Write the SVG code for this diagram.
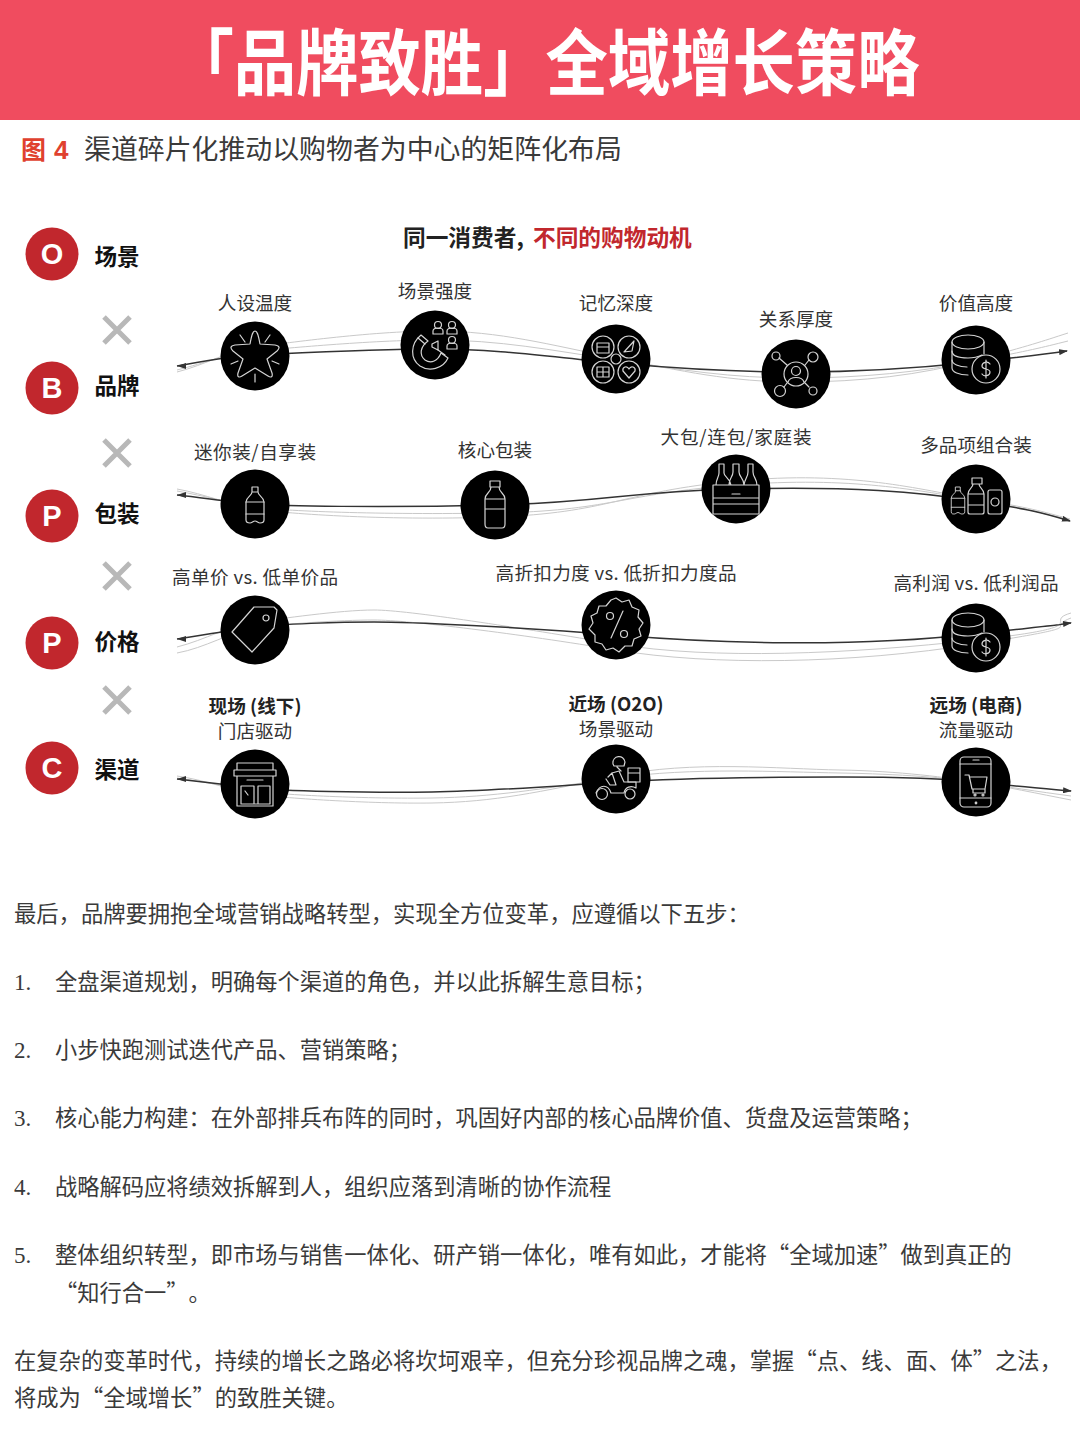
<svg xmlns="http://www.w3.org/2000/svg" width="1080" height="1443" viewBox="0 0 1080 1443">
<style>
text{font-family:"Liberation Sans","Noto Sans CJK SC",sans-serif}
.cjk{font-family:"Noto Sans CJK SC","Liberation Sans",sans-serif}
.lab{font-size:18.6px;fill:#333;text-anchor:middle}
.labb{font-size:18.6px;fill:#222;text-anchor:middle;font-weight:700}
.side{font-size:22.5px;fill:#111;font-weight:700}
.let{font-size:29px;fill:#fff;font-weight:700;text-anchor:middle}
.body{font-size:22.25px;fill:#3a3a3a}
.bodyw{font-size:22.3px;fill:#3a3a3a}
.num{font-family:"Liberation Serif",serif;font-size:23px;fill:#3a3a3a}
.main{fill:none;stroke:#333;stroke-width:1.5}
.lite{fill:none;stroke:#c9c9c9;stroke-width:1}
.dot{fill:#000}
.ic{fill:none;stroke:#d4d4d4;stroke-width:1.2;stroke-linejoin:round;stroke-linecap:round}
.x{stroke:#b8b8b8;stroke-width:5;fill:none}
.bad{fill:#c1272d}
</style>
<defs>
<marker id="ah" markerWidth="9" markerHeight="6" refX="8" refY="3" orient="auto" markerUnits="userSpaceOnUse"><path d="M0 0L9 3L0 6z" fill="#333"/></marker>
<g id="coins">
<ellipse cx="-8" cy="-18" rx="16" ry="7"/>
<path d="M-24 -18V8C-24 12 -17 15 -8 15"/>
<path d="M8 -18V-6"/>
<path d="M-24 -9C-24 -4 -17 -2 -8 -2C-3 -2 2 -3 6 -5"/>
<path d="M-24 0C-24 4 -17 7 -9 7"/>
<circle cx="10" cy="9" r="14"/>
<path d="M14 4C12 1 6 2 6 6C6 10 14 8 14 12C14 16 8 17 6 14M10 0V18"/>
</g>
<g id="person"><circle cx="0" cy="-3" r="3.5"/><path d="M-5 6V3C-5 1 -3 0 0 0C3 0 5 1 5 3V6z"/></g>
<g id="bottleA">
<path d="M-3 -18H3V-13H-3zM-3 -13C-3 -9 -9 -8 -9 -3V15C-9 18 -7 18 -5 18C-3 18 -2 16 0 16C2 16 3 18 5 18C7 18 9 18 9 15V-3C9 -8 3 -9 3 -13"/>
<path d="M-9 -3H9M-9 9H9"/>
</g>
</defs>

<rect id="header" x="0" y="0" width="1080" height="120" fill="#f04c5f"/>
<text class="cjk" x="171.5" y="89" font-size="72" font-weight="700" fill="#fff" textLength="748" lengthAdjust="spacingAndGlyphs">「品牌致胜」全域增长策略</text>
<text x="21" y="159" font-size="25" font-weight="700" fill="#e0412f" class="cjk">图</text>
<text x="54" y="159" font-size="26" font-weight="700" fill="#e0412f">4</text>
<text class="cjk" x="84" y="159" font-size="26.9" fill="#3a3a3a">渠道碎片化推动以购物者为中心的矩阵化布局</text>

<text class="cjk" x="403" y="246" font-size="22.7" font-weight="700" fill="#222">同一消费者,<tspan x="533" fill="#c1272d">不同的购物动机</tspan></text>

<g id="connectors">
<path class="lite" d="M177 372C205 365 230 350 255 347S370 331 435 331S550 345 616 358S730 382 796 382S920 375 976 360S1040 342 1068 333"/>
<path class="lite" d="M177 370C205 363 230 353 255 351S370 340 435 340S550 350 616 360S730 378 796 378S920 372 976 361S1040 348 1068 341"/>
<path class="main" d="M177 366C205 361 230 356 255 355S370 349 435 349S550 357 616 363S730 372 796 372S920 368 976 362S1040 355 1067 351" marker-end="url(#ah)"/>
<path class="lite" d="M177 489C205 494 230 505 255 509S380 521 495 517S620 492 736 481S920 490 976 499S1040 511 1070 519"/>
<path class="lite" d="M177 491C205 496 230 503 255 507S380 515 495 513S620 494 736 485S920 491 976 500S1040 513 1070 520"/>
<path class="main" d="M177 495C205 498 230 502 255 504S380 508 495 505S620 492 736 489S920 492 976 501S1040 512 1070 521" marker-end="url(#ah)"/>
<path class="lite" d="M177 647C205 640 230 625 255 622S340 610 374 610S520 628 616 644S850 654 976 640S1040 622 1071 613"/>
<path class="lite" d="M177 653C205 648 230 632 255 628S340 620 374 620S520 634 616 650S850 664 976 644S1040 630 1071 618"/>
<path class="main" d="M177 639C205 635 230 630 255 627S340 622 374 622S520 627 616 635S850 648 976 634S1040 627 1071 623" marker-end="url(#ah)"/>
<path class="lite" d="M177 776C205 780 230 790 255 794S370 804 432 803S540 792 616 776S780 769 840 770S950 778 976 782S1040 794 1071 800"/>
<path class="lite" d="M177 778C205 782 230 787 255 791S370 799 432 798S540 789 616 778S780 772 840 773S950 778 976 782S1040 792 1071 796"/>
<path class="main" d="M177 779C205 782 230 785 255 788S370 793 432 792S540 787 616 782S780 777 840 777S950 779 976 782S1040 788 1071 791" marker-end="url(#ah)"/>
<path d="M177 366L186 363L186 369z" fill="#333"/>
<path d="M177 495L186 492L186 498z" fill="#333"/>
<path d="M177 639L186 636L186 642z" fill="#333"/>
<path d="M177 779L186 776L186 782z" fill="#333"/>
</g>

<g id="dim-o"><circle class="bad" cx="52" cy="254" r="26.5"/><text class="let" x="52" y="264">O</text><text class="side cjk" x="94.5" y="265">场景</text></g>
<g id="dim-b"><circle class="bad" cx="52" cy="388" r="26.5"/><text class="let" x="52" y="398">B</text><text class="side cjk" x="94.5" y="394">品牌</text></g>
<g id="dim-p1"><circle class="bad" cx="52" cy="516" r="26.5"/><text class="let" x="52" y="526">P</text><text class="side cjk" x="94.5" y="522">包装</text></g>
<g id="dim-p2"><circle class="bad" cx="52" cy="643" r="26.5"/><text class="let" x="52" y="653">P</text><text class="side cjk" x="94.5" y="650">价格</text></g>
<g id="dim-c"><circle class="bad" cx="52" cy="768" r="26.5"/><text class="let" x="52" y="778">C</text><text class="side cjk" x="94.5" y="778">渠道</text></g>
<g id="times"><path class="x" d="M104 317L130 343M130 317L104 343"/><path class="x" d="M104 440L130 466M130 440L104 466"/><path class="x" d="M104 563L130 589M130 563L104 589"/><path class="x" d="M104 687L130 713M130 687L104 713"/></g>

<g id="n-renshe"><text class="lab cjk" x="255" y="310">人设温度</text><circle class="dot" cx="255" cy="356" r="34.5"/>
<g class="ic" transform="translate(255 355)"><path d="M0 -24C2 -24 3 -22 5 -11L20 -10C25 -9 25 -7 22 -4L12 4L17 18C18 22 16 23 13 21L0 13L-13 21C-16 23 -18 22 -17 18L-12 4L-22 -4C-25 -7 -25 -9 -20 -10L-5 -11C-3 -22 -2 -24 0 -24z"/><path d="M-15 -20L-10 -13M15 -20L10 -13M-24 9L-17 6M24 9L17 6M0 27V19"/></g></g>
<g id="n-changjing"><text class="lab cjk" x="435" y="298">场景强度</text><circle class="dot" cx="435" cy="345" r="34.5"/>
<g class="ic" transform="translate(435 345)"><use href="#person" x="3" y="-17"/><use href="#person" x="17" y="-17"/><use href="#person" x="17" y="-2"/><path d="M-14 -10L-7 -4C-15 2 -16 10 -10 15C-4 19 3 16 6 8L13 13C8 24 -6 27 -15 21C-25 14 -25 -1 -14 -10z"/><path d="M-17 -7L-10 -1M10 10L3 5"/><path d="M-3 -1L3 -4V5L-3 2z"/></g></g>
<g id="n-jiyi"><text class="lab cjk" x="616" y="310">记忆深度</text><circle class="dot" cx="616" cy="359" r="34.5"/>
<g class="ic" transform="translate(616 359)"><circle cx="-13" cy="-12" r="11"/><circle cx="13" cy="-12" r="11"/><circle cx="-13" cy="13" r="11"/><circle cx="13" cy="13" r="11"/><path d="M-19 -16H-7V-6H-19zM-19 -12H-7M-19 8H-7V18H-19zM-19 13H-7M-13 8V18M8 -7L18 -18L16 -8zM13 19L7 12C6 8 11 6 13 10C15 6 20 8 19 12z"/><circle cx="0" cy="0" r="5" fill="#000"/></g></g>
<g id="n-guanxi"><text class="lab cjk" x="796" y="326">关系厚度</text><circle class="dot" cx="796" cy="374" r="34.5"/>
<g class="ic" transform="translate(796 374)"><circle r="12"/><circle cy="-3" r="4.5"/><path d="M-8 8C-6 2 6 2 8 8M-9 -9L-17 -16M9 -9L13 -14M-9 9L-12 13M9 9L13 13"/><circle cx="-20" cy="-18" r="4"/><circle cx="17" cy="-17" r="5"/><circle cx="-16" cy="17" r="5.5"/><circle cx="17" cy="17" r="4"/></g></g>
<g id="n-jiazhi"><text class="lab cjk" x="976" y="310">价值高度</text><circle class="dot" cx="976" cy="360" r="34.5"/><use class="ic" href="#coins" x="976" y="360"/></g>

<g id="n-mini"><text class="lab cjk" x="255" y="459" textLength="122">迷你装/自享装</text><circle class="dot" cx="255" cy="504" r="34.5"/><use class="ic" href="#bottleA" x="255" y="505"/></g>
<g id="n-hexin"><text class="lab cjk" x="495" y="457">核心包装</text><circle class="dot" cx="495" cy="505" r="34.5"/>
<g class="ic" transform="translate(495 505)"><path d="M-5 -24H5V-18H-5zM-4 -18C-4 -12 -10 -12 -10 -6V19C-10 21 -9 23 -7 23H7C9 23 10 21 10 19V-6C10 -12 4 -12 4 -18M-10 -6H10M-10 4H10"/></g></g>
<g id="n-dabao"><text class="lab cjk" x="736" y="444" textLength="151">大包/连包/家庭装</text><circle class="dot" cx="736" cy="489" r="34.5"/>
<g class="ic" transform="translate(736 489)"><path d="M-23 -4V25H23V-4zM-23 9H23M-23 15H23M-4 5H4M-17 -25H-12V-16C-12 -12 -6 -11 -5 -4M-17 -25V-16C-17 -12 -20 -10 -20 -4M-3 -25H3V-17C3 -12 8 -11 8 -4M-3 -25V-17C-3 -12 -7 -11 -7 -4M12 -25H17V-17C17 -12 21 -10 21 -4M12 -25V-17C12 -12 9 -11 8 -4"/></g></g>
<g id="n-duopin"><text class="lab cjk" x="976" y="452">多品项组合装</text><circle class="dot" cx="976" cy="499" r="34.5"/>
<g class="ic" transform="translate(976 499)"><g transform="translate(-18 1.5) scale(.75)"><use href="#bottleA"/></g><path d="M-4 -21H6V-15H-4zM-3 -15C-3 -11 -8 -10 -8 -5V13C-8 14 -7 15 -6 15H6C8 15 8 14 8 13V-5C8 -10 3 -11 3 -15M-8 -5H8M-8 6H8"/><rect x="12" y="-9" width="14" height="24" rx="2"/><circle cx="19" cy="3" r="4"/></g></g>

<g id="n-danjia"><text class="lab cjk" x="255" y="584" textLength="166">高单价 vs. 低单价品</text><circle class="dot" cx="255" cy="630" r="34.5"/>
<g class="ic" transform="translate(255 629)"><path d="M-1 -22H19L22 -19L19 -1L-3 23L-23 3z"/><circle cx="11" cy="-11" r="3"/></g></g>
<g id="n-zhekou"><text class="lab cjk" x="616" y="580" textLength="241">高折扣力度 vs. 低折扣力度品</text><circle class="dot" cx="616" cy="625" r="34.5"/>
<g class="ic" transform="translate(616 625)"><path d="M0 -27L6 -23L13 -25L16 -18L23 -15L22 -8L27 -2L23 4L25 11L18 14L16 21L9 21L3 27L-3 23L-10 25L-14 19L-21 17L-21 10L-27 4L-23 -2L-25 -9L-19 -12L-17 -19L-10 -19L-5 -25z"/><circle cx="-6" cy="-9" r="3.5"/><circle cx="8" cy="9" r="3.5"/><path d="M-5 13L7 -14"/></g></g>
<g id="n-lirun"><text class="lab cjk" x="976" y="590" textLength="165">高利润 vs. 低利润品</text><circle class="dot" cx="976" cy="638" r="34.5"/><use class="ic" href="#coins" x="976" y="638"/></g>

<g id="n-xianchang"><text class="labb cjk" x="255" y="713" textLength="93">现场 (线下)</text><text class="lab cjk" x="255" y="738">门店驱动</text><circle class="dot" cx="255" cy="784" r="34.5"/>
<g class="ic" transform="translate(255 784)"><path d="M-18 -21H18V-14H-18zM-21 -14H21V-8H-21zM-18 -8V22H18V-8M-8 -4H8M-14 2V20H-1V2zM3 2V20H15V2zM-14 20H15M-10 7L-7 11"/></g></g>
<g id="n-jinchang"><text class="labb cjk" x="616" y="711" textLength="95">近场 (O2O)</text><text class="lab cjk" x="616" y="736">场景驱动</text><circle class="dot" cx="616" cy="779" r="34.5"/>
<g class="ic" transform="translate(616 779)"><circle cx="-14" cy="15" r="5.5"/><circle cx="14" cy="15" r="5"/><path d="M-20 14C-16 5 -8 5 -5 14H8C9 8 15 6 20 9V3H8L3 -8L-4 -6L0 6H-6L-10 0M-4 -6L-8 -2M-3 -15C-4 -24 8 -25 9 -17L8 -13H-2zM1 -12L5 -8"/><path d="M12 -11H24V3H12zM12 -6H24"/></g></g>
<g id="n-yuanchang"><text class="labb cjk" x="976" y="712" textLength="93">远场 (电商)</text><text class="lab cjk" x="976" y="737">流量驱动</text><circle class="dot" cx="976" cy="782" r="34.5"/>
<g class="ic" transform="translate(976 782)"><rect x="-16" y="-25" width="31" height="50" rx="4"/><path d="M-16 -18H15M-16 16H15M-3 -22H3M-11 -7H-7L-4 7H9L11 -5H-6M-3 7V11H9V7"/><circle cx="-1" cy="13" r="1"/><circle cx="7" cy="13" r="1"/><circle cx="0" cy="21" r="0.8"/></g></g>

<g id="body">
<text class="bodyw cjk" x="14" y="922">最后，品牌要拥抱全域营销战略转型，实现全方位变革，应遵循以下五步：</text>
<text class="num" x="14" y="990">1.</text><text class="body cjk" x="55" y="990">全盘渠道规划，明确每个渠道的角色，并以此拆解生意目标；</text>
<text class="num" x="14" y="1058">2.</text><text class="body cjk" x="55" y="1058">小步快跑测试迭代产品、营销策略；</text>
<text class="num" x="14" y="1126">3.</text><text class="body cjk" x="55" y="1126">核心能力构建：在外部排兵布阵的同时，巩固好内部的核心品牌价值、货盘及运营策略；</text>
<text class="num" x="14" y="1195">4.</text><text class="body cjk" x="55" y="1195">战略解码应将绩效拆解到人，组织应落到清晰的协作流程</text>
<text class="num" x="14" y="1263">5.</text><text class="body cjk" x="55" y="1263">整体组织转型，即市场与销售一体化、研产销一体化，唯有如此，才能将“全域加速”做到真正的</text>
<text class="body cjk" x="55" y="1301">“知行合一”<tspan dx="11">。</tspan></text>
<text class="bodyw cjk" x="14" y="1369">在复杂的变革时代，持续的增长之路必将坎坷艰辛，但充分珍视品牌之魂，掌握“点、线、面、体”之法，</text>
<text class="bodyw cjk" x="14" y="1406">将成为“全域增长”的致胜关键。</text>
</g>
</svg>
